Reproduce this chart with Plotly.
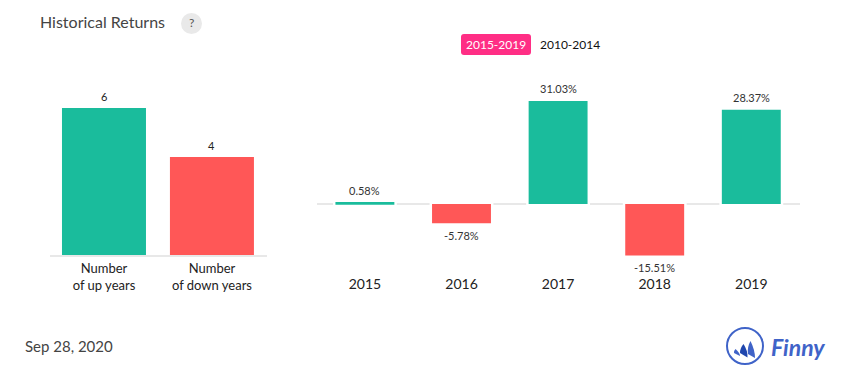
import plotly.graph_objects as go

count_labels = ["Number<br>of up years", "Number<br>of down years"]
count_values = [6, 4]
count_colors = ["#1abc9c", "#ff5757"]
years = ["2015", "2016", "2017", "2018", "2019"]
returns = [0.58, -5.78, 31.03, -15.51, 28.37]
return_text = ["0.58%", "-5.78%", "31.03%", "-15.51%", "28.37%"]
return_colors = ["#1abc9c", "#ff5757", "#1abc9c", "#ff5757", "#1abc9c"]

W, H = 855, 382
LATO = "Lato, Carlito, sans-serif"
px = lambda x: x / W
py = lambda y: 1 - y / H

fig = go.Figure()
fig.add_trace(go.Bar(x=count_labels, y=count_values, width=0.778,
                     marker=dict(color=count_colors, line_width=0),
                     cliponaxis=False, xaxis="x", yaxis="y"))
# white halo that interrupts the zero line beside each bar
fig.add_trace(go.Bar(x=years, y=returns, width=0.63,
                     marker=dict(color="white", line=dict(color="white", width=3)),
                     hoverinfo="skip", cliponaxis=False, xaxis="x2", yaxis="y2"))
fig.add_trace(go.Bar(x=years, y=returns, width=0.61,
                     marker=dict(color=return_colors, line_width=0),
                     cliponaxis=False, xaxis="x2", yaxis="y2"))

shapes = []
annos = []
def text(x, y, s, size, color, anchor="left", **font):
    annos.append(dict(xref="paper", yref="paper", x=px(x), y=py(y), text=s, showarrow=False,
                      xanchor=anchor, yanchor="middle", borderpad=0,
                      font=dict(family=font.pop("family", LATO), size=size, color=color, **font)))

# value labels, tied to the data through the axes (category index on x)
for i, v in enumerate(count_values):
    annos.append(dict(xref="x", yref="y", x=i, y=v, text=str(v), showarrow=False, yshift=11.5,
                      yanchor="middle", font=dict(family=LATO, size=11, color="#222")))
for i, (v, t) in enumerate(zip(returns, return_text)):
    annos.append(dict(xref="x2", yref="y2", x=i, y=v, text=t, showarrow=False,
                      yshift=12 if v > 0 else -12.5, yanchor="middle",
                      font=dict(family=LATO, size=11, color="#333")))

text(39, 21, "Historical Returns", 16, "#444")
shapes.append(dict(type="circle", xref="paper", yref="paper", x0=px(181), x1=px(202), y0=py(13), y1=py(34),
                   fillcolor="#e9e9e9", line_width=0))
text(191.5, 23, "?", 12, "#555", "center")

# range button
x0, x1, y0, y1, r = 461, 531, 34, 55, 3
path = (f"M{px(x0+r)},{py(y0)} L{px(x1-r)},{py(y0)} Q{px(x1)},{py(y0)} {px(x1)},{py(y0+r)} "
        f"L{px(x1)},{py(y1-r)} Q{px(x1)},{py(y1)} {px(x1-r)},{py(y1)} L{px(x0+r)},{py(y1)} "
        f"Q{px(x0)},{py(y1)} {px(x0)},{py(y1-r)} L{px(x0)},{py(y0+r)} Q{px(x0)},{py(y0)} {px(x0+r)},{py(y0)} Z")
shapes.append(dict(type="path", xref="paper", yref="paper", path=path, fillcolor="#ff2e85", line_width=0))
text(496, 44.5, "2015-2019", 12, "white", "center")
text(539, 44.5, "2010-2014", 12, "#111")

text(24, 346, "Sep 28, 2020", 15, "#444")

# logo
shapes.append(dict(type="circle", xref="paper", yref="paper", x0=px(727), x1=px(763), y0=py(328), y1=py(364),
                   line=dict(color="#3f63c8", width=2), fillcolor="white"))
def sail(tip, foot, tail, control_out, control_in, color):
    pt = lambda p: f"{px(p[0])},{py(p[1])}"
    d = f"M{pt(tip)} Q{pt(control_out)} {pt(foot)} L{pt(tail)} Q{pt(control_in)} {pt(tip)} Z"
    shapes.append(dict(type="path", xref="paper", yref="paper", path=d, fillcolor=color, line_width=0))
sail((750.5, 341), (755, 358), (748, 354), (755, 350), (747, 347), "#3f63c8")
sail((743.5, 344), (747.5, 357.5), (740, 353), (748, 351), (740, 348), "#1f46ad")
sail((735.5, 349), (740, 356), (734, 353), (740, 353), (733.5, 351), "#3f63c8")
text(770, 347, "Finny", 23, "#3f63c8", weight="bold", style="italic")

axis_line = "#e8e8e8"
fig.update_layout(
    width=W, height=H, margin=dict(l=0, r=0, t=0, b=0, autoexpand=False), autosize=False,
    paper_bgcolor="white", plot_bgcolor="white", showlegend=False,
    barmode="overlay", shapes=shapes, annotations=annos,
    xaxis=dict(domain=[px(50), px(267)], type="category", range=[-0.5, 1.51], showgrid=False, ticks="",
               showline=True, linecolor=axis_line, linewidth=2,
               tickfont=dict(family=LATO, size=13, color="#222"), anchor="y"),
    yaxis=dict(domain=[py(255), py(83.5)], range=[0, 7], visible=False, anchor="x"),
    xaxis2=dict(domain=[px(316.6), px(799.6)], type="category", range=[-0.5, 4.5], showgrid=False, ticks="",
                showline=False, ticklabelstandoff=4,
                tickfont=dict(family=LATO, size=14, color="#222"), anchor="y2"),
    yaxis2=dict(domain=[py(270.4), py(87.8)], range=[-20, 35], showgrid=False, showticklabels=False,
                ticks="", showline=False, zeroline=True, zerolinecolor=axis_line, zerolinewidth=2,
                anchor="x2"),
)
fig.write_html("out.html", config={"displayModeBar": False},
               post_script="document.body.style.margin='0';")
